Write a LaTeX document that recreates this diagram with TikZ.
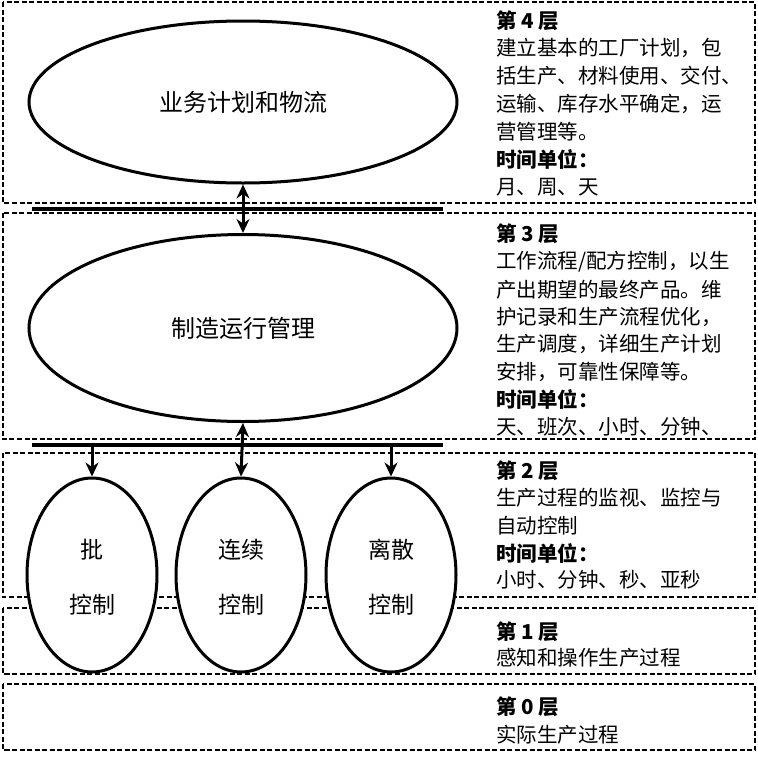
\documentclass[tikz,border=0pt]{standalone}
\usepackage{fontspec}
\setmainfont{Noto Sans CJK SC}
\usetikzlibrary{shapes.geometric,arrows.meta}
\begin{document}
\begin{tikzpicture}[x=1pt,y=-1pt,
  layerbox/.style={draw, dash pattern=on 5pt off 2.5pt, line width=1.5pt},
  bigell/.style={ellipse, draw, line width=3pt, fill=white, inner sep=0pt, minimum width=428pt, font=\fontsize{24}{28}\selectfont},
  smallell/.style={ellipse, draw, line width=3pt, fill=white, inner sep=0pt, minimum width=130pt, minimum height=194pt},
  elltext/.style={inner sep=0pt, font=\fontsize{23}{26}\selectfont},
  bar/.style={line width=4pt},
  arr/.style={line width=3pt, -{Stealth[length=14pt,width=13pt]}},
  dbl/.style={line width=3pt, {Stealth[length=14pt,width=13pt]}-{Stealth[length=14pt,width=13pt]}},
  txt/.style={anchor=west, inner sep=0pt, font=\fontsize{20.5}{24}\selectfont},
  hd/.style={anchor=west, inner sep=0pt, font=\fontsize{20.5}{24}\selectfont\bfseries}]
\useasboundingbox (0,0) rectangle (758,756);
\fill[white] (0,0) rectangle (758,756);
% layer boxes
\draw[layerbox] (3,2) rectangle (755,203);
\draw[layerbox] (3,213) rectangle (755,439);
\draw[layerbox] (3,453) rectangle (755,597);
\draw[layerbox] (3,608) rectangle (755,674);
\draw[layerbox] (3,684) rectangle (755,750);
% bars
\coordinate (b1L) at (32,209);
\coordinate (b1R) at (443,209);
\coordinate (b2L) at (32,445);
\coordinate (b2R) at (443,445);
\draw[bar] (b1L) -- (b1R);
\draw[bar] (b2L) -- (b2R);
% ellipses
\node[bigell, minimum height=162pt] (e1) at (243,102) {业务计划和物流};
\node[bigell, minimum height=187pt] (e2) at (243,328) {制造运行管理};
\node[smallell] (ep) at (92,575) {};
\node[smallell] (ec) at (241,575) {};
\node[smallell] (ed) at (391,575) {};
\node[elltext] (tp1) at (92,550) {批};
\node[elltext] (tp2) at (92,605) {控制};
\node[elltext] (tc1) at (241,550) {连续};
\node[elltext] (tc2) at (241,605) {控制};
\node[elltext] (td1) at (391,550) {离散};
\node[elltext] (td2) at (391,605) {控制};
% arrows
\draw[dbl] (e1.south) -- (e2.north);
\draw[dbl] (e2.south) -- (ec.north);
\draw[arr] (ep.north |- b2L) -- (ep.north);
\draw[arr] (ed.north |- b2L) -- (ed.north);
% layer 4 text
\node[hd]  (l4h) at (496,21)  {第 4 层};
\node[txt] (l4a) at (496,48)  {建立基本的工厂计划，包};
\node[txt] (l4b) at (496,76)  {括生产、材料使用、交付、};
\node[txt] (l4c) at (496,104) {运输、库存水平确定，运};
\node[txt] (l4d) at (496,132) {营管理等。};
\node[hd]  (l4t) at (496,159) {时间单位：};
\node[txt] (l4u) at (496,187) {月、周、天};
% layer 3 text
\node[hd]  (l3h) at (496,234) {第 3 层};
\node[txt] (l3a) at (496,262) {工作流程/配方控制，以生};
\node[txt] (l3b) at (496,290) {产出期望的最终产品。维};
\node[txt] (l3c) at (496,317) {护记录和生产流程优化，};
\node[txt] (l3d) at (496,344) {生产调度，详细生产计划};
\node[txt] (l3e) at (496,372) {安排，可靠性保障等。};
\node[hd]  (l3t) at (496,399) {时间单位：};
\node[txt] (l3u) at (496,427) {天、班次、小时、分钟、};
% layer 2 text
\node[hd]  (l2h) at (496,471) {第 2 层};
\node[txt] (l2a) at (496,498) {生产过程的监视、监控与};
\node[txt] (l2b) at (496,526) {自动控制};
\node[hd]  (l2t) at (496,553) {时间单位：};
\node[txt] (l2u) at (496,580) {小时、分钟、秒、亚秒};
% layer 1 text
\node[hd]  (l1h) at (496,632) {第 1 层};
\node[txt] (l1a) at (496,658) {感知和操作生产过程};
% layer 0 text
\node[hd]  (l0h) at (496,707) {第 0 层};
\node[txt] (l0a) at (496,735) {实际生产过程};
\end{tikzpicture}
\end{document}
